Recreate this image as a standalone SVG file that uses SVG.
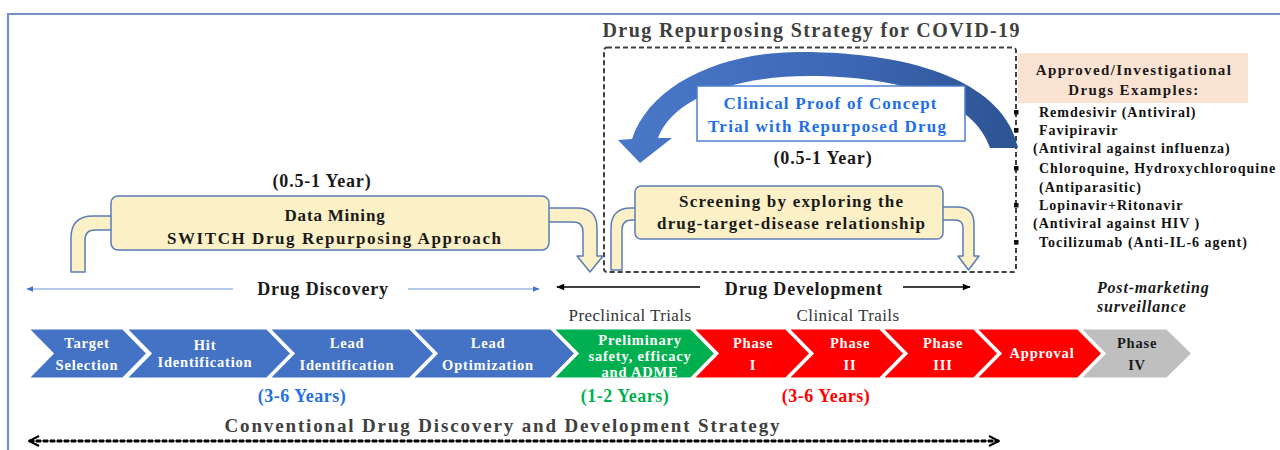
<svg xmlns="http://www.w3.org/2000/svg" width="1280" height="450" viewBox="0 0 1280 450">
<defs>
<style>
.t{font-family:"Liberation Serif","Times New Roman",serif;font-weight:bold;}
.n{font-family:"Liberation Serif","Times New Roman",serif;}
.wt{fill:#ffffff;font-size:14.5px;letter-spacing:0.8px;text-anchor:middle;font-family:"Liberation Serif","Times New Roman",serif;font-weight:bold;}
.box{fill:#fcf0c6;stroke:#5b7cb8;stroke-width:1.5;}
.bend{fill:#fcf0c6;stroke:#5b7cb8;stroke-width:1.5;stroke-linejoin:round;}
.chev{stroke:#ffffff;stroke-width:3;stroke-linejoin:miter;}
.lst{font-size:14px;letter-spacing:1px;fill:#111111;}
</style>
<linearGradient id="arcg" x1="0" y1="0" x2="1" y2="0">
<stop offset="0" stop-color="#4a78c8"/>
<stop offset="0.55" stop-color="#3d68b6"/>
<stop offset="1" stop-color="#2c5392"/>
</linearGradient>
<marker id="bhead" viewBox="0 0 10 10" refX="9" refY="5" markerWidth="7" markerHeight="7" orient="auto-start-reverse" markerUnits="userSpaceOnUse">
<path d="M0,1 L10,5 L0,9 Z" fill="#4472c4"/>
</marker>
<marker id="khead" viewBox="0 0 10 10" refX="9" refY="5" markerWidth="9" markerHeight="8" orient="auto-start-reverse" markerUnits="userSpaceOnUse">
<path d="M0,1 L10,5 L0,9 Z" fill="#000000"/>
</marker>
<marker id="ohead" viewBox="0 0 12 12" refX="11" refY="6" markerWidth="12" markerHeight="12" orient="auto-start-reverse" markerUnits="userSpaceOnUse">
<path d="M1,1 L11,6 L1,11" fill="none" stroke="#000000" stroke-width="2"/>
</marker>
</defs>
<rect width="1280" height="450" fill="#ffffff"/>
<!-- frame -->
<path d="M8,450 L8,14 L1280,14" fill="none" stroke="#7390c8" stroke-width="2.2"/>

<g id="repurposing-region">
<text class="t" x="811" y="37" text-anchor="middle" font-size="20" fill="#404040" textLength="417" lengthAdjust="spacing">Drug Repurposing Strategy for COVID-19</text>
<rect x="604" y="47.5" width="412" height="224.5" rx="3" fill="none" stroke="#404040" stroke-width="2" stroke-dasharray="5,3"/>
</g>

<g id="connectors">
<path d="M1018,148 C1005,85 920,52 800,52 C720,52 650,85 632,139 L618,140 L640,163 L672,138 L658,138 C672,100 730,76 810,76 C900,76 975,100 990,148 Z" fill="url(#arcg)"/>
<path class="bend" d="M118,216 L93,216 Q71,216 71,238 L71,272 L85,272 L85,240 Q85,230 95,230 L118,230 Z"/>
<path class="bend" d="M543,208 L577,208 Q597,208 597,228 L597,256 L603,256 L590,272 L577,256 L583,256 L583,232 Q583,222 573,222 L543,222 Z"/>
<path class="bend" d="M641,208 L631,208 Q611,208 611,228 L611,270 L622,270 L622,230 Q622,220 632,220 L641,220 Z"/>
<path class="bend" d="M937,207 L957,207 Q974,207 974,224 L974,256 L979,256 L968.5,270 L958,256 L963,256 L963,228 Q963,220 955,220 L937,220 Z"/>
<line x1="233" y1="289" x2="27" y2="289" stroke="#9ab8e4" stroke-width="1.5" marker-end="url(#bhead)"/>
<line x1="408" y1="289" x2="539" y2="289" stroke="#9ab8e4" stroke-width="1.5" marker-end="url(#bhead)"/>
<line x1="700" y1="287" x2="557" y2="287" stroke="#000" stroke-width="1.5" marker-end="url(#khead)"/>
<line x1="903" y1="287" x2="970" y2="287" stroke="#000" stroke-width="1.5" marker-end="url(#khead)"/>
<line x1="29" y1="441" x2="999" y2="441" stroke="#000" stroke-width="1"/>
<line x1="29" y1="441" x2="999" y2="441" stroke="#000" stroke-width="3" stroke-dasharray="5,2" marker-start="url(#ohead)" marker-end="url(#ohead)"/>
</g>

<g id="clinical-poc">
<rect x="697" y="86" width="268" height="55" fill="#ffffff" stroke="#4f7fd0" stroke-width="1.5"/>
<text class="t" x="830" y="109" text-anchor="middle" font-size="17" fill="#1f6fe8" textLength="213" lengthAdjust="spacing">Clinical Proof of Concept</text>
<text class="t" x="827" y="132" text-anchor="middle" font-size="17" fill="#1f6fe8" textLength="238" lengthAdjust="spacing">Trial with Repurposed Drug</text>
<text class="t" x="823" y="164" text-anchor="middle" font-size="18" fill="#1a1a1a" letter-spacing="0.8">(0.5-1 Year)</text>
</g>

<g id="screening">
<rect class="box" x="635" y="186" width="308" height="53" rx="6"/>
<text class="t" x="791" y="207" text-anchor="middle" font-size="17" fill="#1a1a1a" textLength="224" lengthAdjust="spacing">Screening by exploring the</text>
<text class="t" x="791" y="229" text-anchor="middle" font-size="17" fill="#1a1a1a" textLength="268" lengthAdjust="spacing">drug-target-disease relationship</text>
</g>

<g id="data-mining">
<text class="t" x="322" y="187" text-anchor="middle" font-size="18" fill="#1a1a1a" letter-spacing="0.8">(0.5-1 Year)</text>
<rect class="box" x="111" y="196" width="438" height="54" rx="7"/>
<text class="t" x="335" y="221" text-anchor="middle" font-size="17" fill="#1a1a1a" letter-spacing="0.8">Data Mining</text>
<text class="t" x="334" y="244" text-anchor="middle" font-size="17" fill="#1a1a1a" textLength="334" lengthAdjust="spacing">SWITCH  Drug  Repurposing Approach</text>
</g>

<g id="drug-examples">
<rect x="1018" y="53" width="230" height="50" fill="#fbe3d3"/>
<text class="t" x="1134" y="75" text-anchor="middle" font-size="15" fill="#1a1a1a" letter-spacing="1.4">Approved/Investigational</text>
<text class="t" x="1134" y="95" text-anchor="middle" font-size="15" fill="#1a1a1a" letter-spacing="1.4">Drugs Examples:</text>
<rect x="1014" y="110" width="4.5" height="4.5" fill="#111"/>
<rect x="1014" y="128" width="4.5" height="4.5" fill="#111"/>
<rect x="1014" y="166" width="4.5" height="4.5" fill="#111"/>
<rect x="1014" y="203" width="4.5" height="4.5" fill="#111"/>
<rect x="1014" y="240" width="4.5" height="4.5" fill="#111"/>
<text class="t lst" x="1039" y="117">Remdesivir (Antiviral)</text>
<text class="t lst" x="1039" y="135">Favipiravir</text>
<text class="t lst" x="1033" y="153">(Antiviral against influenza)</text>
<text class="t lst" x="1039" y="173">Chloroquine, Hydroxychloroquine</text>
<text class="t lst" x="1039" y="192">(Antiparasitic)</text>
<text class="t lst" x="1039" y="210">Lopinavir+Ritonavir</text>
<text class="t lst" x="1033" y="228">(Antiviral against HIV )</text>
<text class="t lst" x="1039" y="247">Tocilizumab (Anti-IL-6 agent)</text>
</g>

<g id="labels">
<text class="t" x="323" y="295" text-anchor="middle" font-size="18" fill="#1a1a1a" letter-spacing="0.8">Drug Discovery</text>
<text class="t" x="804" y="295" text-anchor="middle" font-size="18" fill="#1a1a1a" letter-spacing="0.8">Drug Development</text>
<text class="t" x="1097" y="293" font-size="16" font-style="italic" fill="#1a1a1a" letter-spacing="0.8">Post-marketing</text>
<text class="t" x="1097" y="312" font-size="16" font-style="italic" fill="#1a1a1a" letter-spacing="0.8">surveillance</text>
<text class="n" x="630" y="321" text-anchor="middle" font-size="17" fill="#333" letter-spacing="0.4">Preclinical Trials</text>
<text class="n" x="848" y="321" text-anchor="middle" font-size="17" fill="#333" letter-spacing="0.4">Clinical Trails</text>
</g>

<g id="stage-target">
<polygon class="chev" fill="#4472c4" points="27,328 123,328 148,353.5 123,379 27,379 52,353.5"/>
<text class="wt" x="87" y="348">Target</text>
<text class="wt" x="87" y="370">Selection</text>
</g>
<g id="stage-hit">
<polygon class="chev" fill="#4472c4" points="125,328 267,328 292,353.5 267,379 125,379 150,353.5"/>
<text class="wt" x="205" y="350">Hit</text>
<text class="wt" x="205" y="367">Identification</text>
</g>
<g id="stage-lead-id">
<polygon class="chev" fill="#4472c4" points="268,328 410,328 435,353.5 410,379 268,379 293,353.5"/>
<text class="wt" x="347" y="348">Lead</text>
<text class="wt" x="347" y="370">Identification</text>
</g>
<g id="stage-lead-opt">
<polygon class="chev" fill="#4472c4" points="411,328 551,328 576,353.5 551,379 411,379 436,353.5"/>
<text class="wt" x="488" y="348">Lead</text>
<text class="wt" x="488" y="370">Optimization</text>
</g>
<g id="stage-preclinical">
<polygon class="chev" fill="#00b050" points="552,328 691,328 716,353.5 691,379 552,379 577,353.5"/>
<text class="wt" x="640" y="345">Preliminary</text>
<text class="wt" x="640" y="361">safety, efficacy</text>
<text class="wt" x="640" y="377">and ADME</text>
</g>
<g id="stage-phase1">
<polygon class="chev" fill="#ff0000" points="692,328 786,328 811,353.5 786,379 692,379 717,353.5"/>
<text class="wt" x="753" y="348">Phase</text>
<text class="wt" x="753" y="370">I</text>
</g>
<g id="stage-phase2">
<polygon class="chev" fill="#ff0000" points="787,328 880,328 905,353.5 880,379 787,379 812,353.5"/>
<text class="wt" x="850" y="348">Phase</text>
<text class="wt" x="850" y="370">II</text>
</g>
<g id="stage-phase3">
<polygon class="chev" fill="#ff0000" points="881,328 974,328 999,353.5 974,379 881,379 906,353.5"/>
<text class="wt" x="943" y="348">Phase</text>
<text class="wt" x="943" y="370">III</text>
</g>
<g id="stage-approval">
<polygon class="chev" fill="#ff0000" points="975,328 1078,328 1103,353.5 1078,379 975,379 1000,353.5"/>
<text class="wt" x="1042" y="358">Approval</text>
</g>
<g id="stage-phase4">
<polygon class="chev" fill="#bfbfbf" points="1079,328 1167,328 1193,353.5 1167,379 1079,379 1104,353.5"/>
<text class="wt" x="1137" y="348" style="fill:#1a1a1a">Phase</text>
<text class="wt" x="1137" y="370" style="fill:#1a1a1a">IV</text>
</g>

<g id="durations">
<text class="t" x="302" y="402" text-anchor="middle" font-size="18" fill="#1f6fe8" letter-spacing="0.5">(3-6 Years)</text>
<text class="t" x="625" y="402" text-anchor="middle" font-size="18" fill="#00b050" letter-spacing="0.5">(1-2 Years)</text>
<text class="t" x="826" y="402" text-anchor="middle" font-size="18" fill="#ff0000" letter-spacing="0.5">(3-6 Years)</text>
<text class="t" x="502" y="432" text-anchor="middle" font-size="19" fill="#404040" textLength="555" lengthAdjust="spacing">Conventional Drug Discovery and Development Strategy</text>
</g>
</svg>
